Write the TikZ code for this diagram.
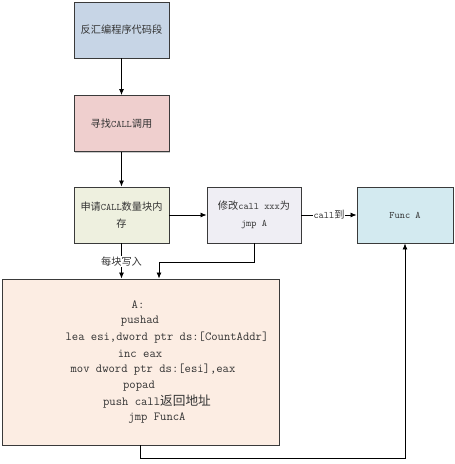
\documentclass[tikz,border=0pt]{standalone}
\usepackage{fontspec}
\renewcommand\familydefault{\ttdefault}
\newfontfamily\cjk[Scale=1.03]{Noto Sans CJK SC}
\newcommand\zh[1]{{\cjk #1}}
\usetikzlibrary{arrows.meta,shadows}
\definecolor{cA}{HTML}{C7D5E6}
\definecolor{cB}{HTML}{EFCFCE}
\definecolor{cC}{HTML}{EEF0DF}
\definecolor{cD}{HTML}{EFEEF4}
\definecolor{cE}{HTML}{D3EAF0}
\definecolor{cF}{HTML}{FCEDE3}
\definecolor{edge}{HTML}{3A3A3A}
\definecolor{txt}{HTML}{333333}
\tikzset{
  boxs/.style={draw=edge,line width=0.9pt,minimum width=95pt,minimum height=56pt,inner sep=2pt,align=center,
    font=\ttfamily\fontsize{9.9}{17}\selectfont,text=txt,
    drop shadow={shadow xshift=1pt,shadow yshift=-1pt,fill=gray!70,opacity=0.6}},
  codeln/.style={font=\ttfamily\fontsize{12.3}{13}\selectfont,text=txt,inner sep=0pt,anchor=center},
  conn/.style={draw=black,line width=0.8pt,-{Latex[length=6pt,width=5pt]}},
  lbl/.style={fill=white,inner sep=1pt,font=\ttfamily\fontsize{9.9}{10}\selectfont,text=txt}
}
\begin{document}
\begin{tikzpicture}[x=1pt,y=-1pt]
\useasboundingbox (0,0) rectangle (455,464);
\node[boxs,fill=cA] (b1) at (121.5,30) {\zh{反汇编程序代码段}};
\node[boxs,fill=cB] (b2) at (121.5,123.5) {\zh{寻找}CALL\zh{调用}};
\node[boxs,fill=cC] (b3) at (121.5,215) {\zh{申请}CALL\zh{数量块内}\\\zh{存}};
\node[boxs,fill=cD,minimum width=94pt] (b4) at (254,215) {\zh{修改}call xxx\zh{为}\\jmp A\hspace{26pt}};
\node[boxs,fill=cE,minimum width=96pt] (b5) at (405,215) {Func A};
\node[boxs,fill=cF,minimum width=277pt,minimum height=166pt] (big) at (140.5,362) {};
\node[codeln] (l1) at (138,305) {A:};
\node[codeln] (l2) at (140,321.5) {pushad};
\node[codeln] (l3) at (167,338) {lea esi,dword ptr ds:[CountAddr]};
\node[codeln] (l4) at (140,354) {inc eax};
\node[codeln] (l5) at (153,370) {mov dword ptr ds:[esi],eax};
\node[codeln] (l6) at (139,386) {popad};
\node[codeln] (l7) at (157,402) {push call\zh{返回地址}};
\node[codeln] (l8) at (157,418) {jmp FuncA};
\coordinate (k) at (159,262);
\coordinate (m) at (140,458);
\draw[conn] (b1) -- (b2);
\draw[conn] (b2) -- (b3);
\draw[conn] (b3.south) -- node[lbl,pos=0.52]{\zh{每块写入}} (b3.south |- big.north);
\draw[conn] (b3) -- (b4);
\draw[conn] (b4) -- node[lbl]{call\zh{到}} (b5);
\draw[conn] (b4.south) |- (k) -- (k |- big.north);
\draw[conn] (m |- big.south) -- (m) -| (b5.south);
\end{tikzpicture}
\end{document}
